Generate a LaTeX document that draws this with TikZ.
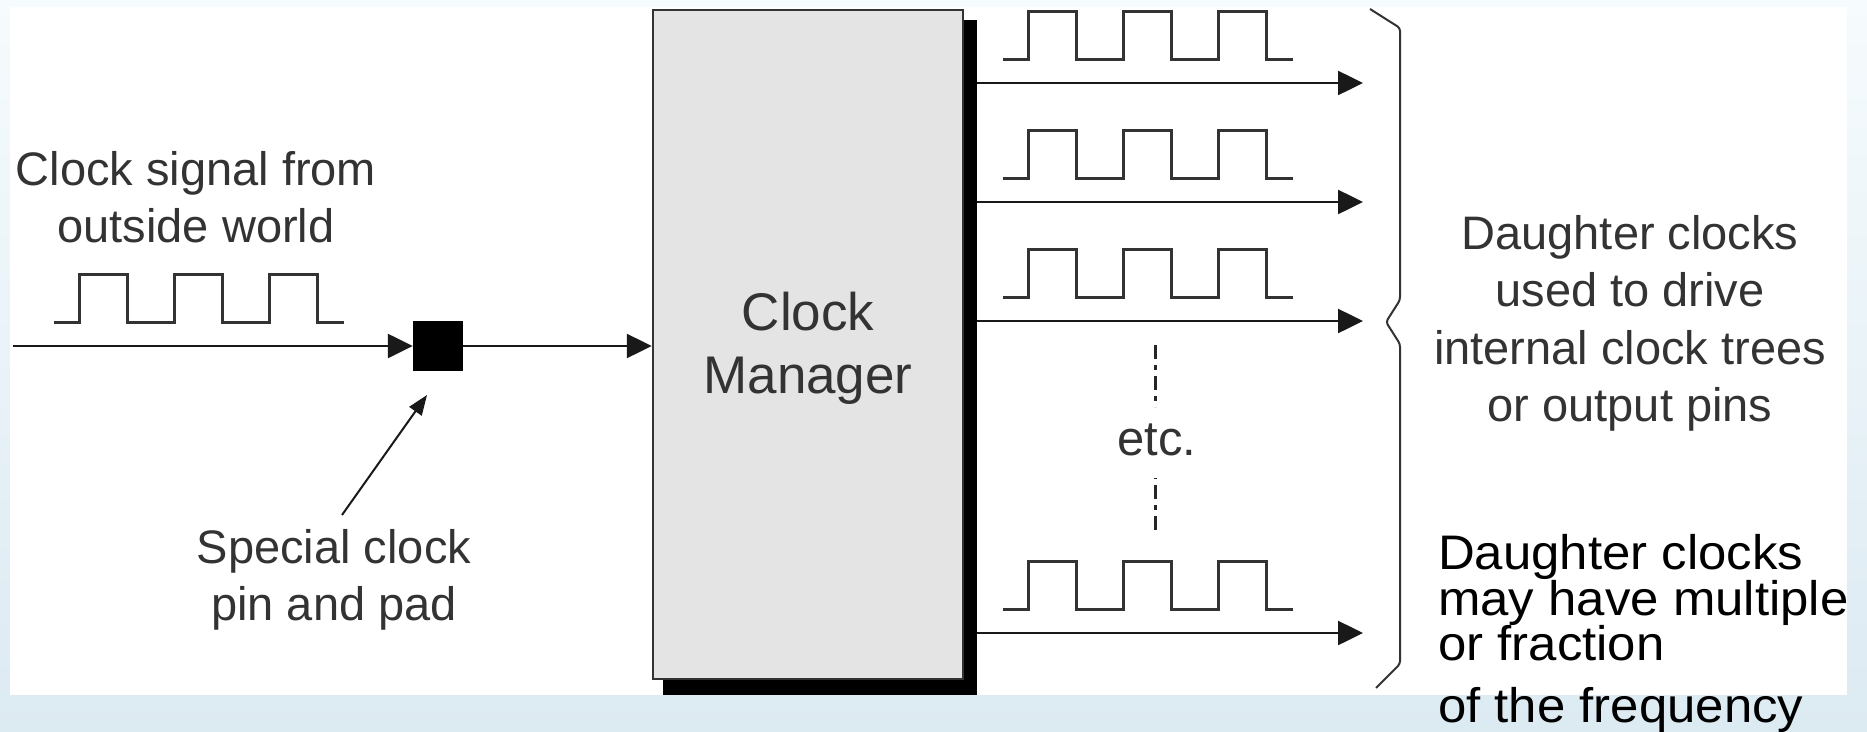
\documentclass[tikz,border=0pt]{standalone}
\usepackage{fontspec}
\setmainfont{Liberation Sans}
\newfontfamily\notefamily[FakeStretch=1.05]{Liberation Sans}
\usetikzlibrary{calc,positioning,arrows.meta}

\definecolor{slidetop}{HTML}{F6FBFD}
\definecolor{slideblue}{HTML}{DCEAF2}
\definecolor{boxgray}{HTML}{E4E4E4}
\definecolor{inkgray}{HTML}{333333}

\newcommand{\notefont}{\notefamily\fontsize{48.5}{45.5}\selectfont\lineskiplimit-60pt\relax}

\tikzset{
    >={Triangle[length=25pt,width=24pt]},
    greytext/.style={
        text=inkgray,
        font=\fontsize{47}{57}\selectfont,
        align=center,
        inner sep=0pt
    },
    blacknote/.style={
        text=black,
        font=\notefont,
        align=left,
        inner sep=0pt
    },
    wire/.style={draw=black!90, line width=2.5pt},
    wave/.style={draw=inkgray, line width=3pt},
    manager/.style={
        rectangle,
        fill=boxgray,
        draw=black!80, line width=2.5pt,
        minimum width=310pt,
        minimum height=669pt,
        inner sep=0pt,
        text=inkgray,
        font=\fontsize{53}{63}\selectfont,
        align=center
    },
    clkwave/.pic={
        \draw[wave] (0,0) -- ++(25,0) -- ++(0,-48) -- ++(48,0) -- ++(0,48)
            -- ++(47,0) -- ++(0,-48) -- ++(48,0) -- ++(0,48)
            -- ++(47,0) -- ++(0,-48) -- ++(48,0) -- ++(0,48) -- ++(27,0);
    }
}

\begin{document}
\begin{tikzpicture}[x=1pt, y=-1pt,
            shadowbox/.style={fill=black, inner sep=0pt,
                minimum width=314pt, minimum height=675pt},
            pad/.style={fill=black, inner sep=0pt, minimum size=50pt},
            dotdash/.style={draw=black!85, line width=3pt,
                dash pattern=on 14pt off 6pt on 5pt off 6pt},
            brace/.style={draw=inkgray, line width=2pt, rounded corners=3pt}]
    % slide background and white picture area
    \shade[top color=slidetop, bottom color=slideblue] (0,0) rectangle (1867,731);
    \fill[white] (10,7) rectangle (1847,695);
    \useasboundingbox (0,0) rectangle (1867,731);

    % clock manager with its shadow
    \node[shadowbox] (shade) at (820,357.5) {};
    \node[manager] (mgr) at (808,344.5) {\rule{0pt}{45pt}Clock\\Manager};

    % input side
    \node[pad] (pad) at (438,346) {};
    \coordinate (src) at (13,346);
    \draw[wire,->] (src) -- (pad.west);
    \draw[wire,->] (pad.east) -- (mgr.west |- pad.east);
    \pic at (54,322) {clkwave};

    \node[greytext, anchor=north] (src text) at (196,151) {Clock signal from\\outside world};
    \node[greytext, anchor=north] (pad text) at (334,529) {Special clock\\pin and pad};
    \coordinate (ptail) at (342,515);
    \coordinate (ptip) at (427,395);
    \draw[wire, line width=2pt, -{Triangle[length=20pt,width=15pt]}] (ptail) -- (ptip);

    % daughter clocks
    \foreach \y [count=\i] in {83,202,321,633} {
        \coordinate (tip\i) at (1363,\y);
        \draw[wire,->] (shade.east |- tip\i) -- (tip\i);
        \pic at (1003,\y-24) {clkwave};
    }

    \node[greytext, anchor=base, font=\fontsize{49}{57}\selectfont] (etc) at (1157,455) {etc.};
    \coordinate (dots top) at (1155,345);
    \coordinate (dots bot) at (1155,530);
    \draw[dotdash] (dots top) -- ++(0,62);
    \draw[dotdash] (dots bot) -- ++(0,-52);

    \draw[brace] (1370,9) -- (1400,28) -- (1400,300) -- (1386,322)
        -- (1400,344) -- (1400,664) -- (1376,688);

    \node[greytext, anchor=north, font=\fontsize{47}{57.5}\selectfont] (out text) at (1630,215)
        {Daughter clocks\\used to drive\\internal clock trees\\or output pins};
    \node[blacknote, anchor=north west] (note) at (1438,534.5)
        {Daughter clocks\\may have multiple\\or fraction\\[16.5pt]of the frequency};
\end{tikzpicture}
\end{document}
